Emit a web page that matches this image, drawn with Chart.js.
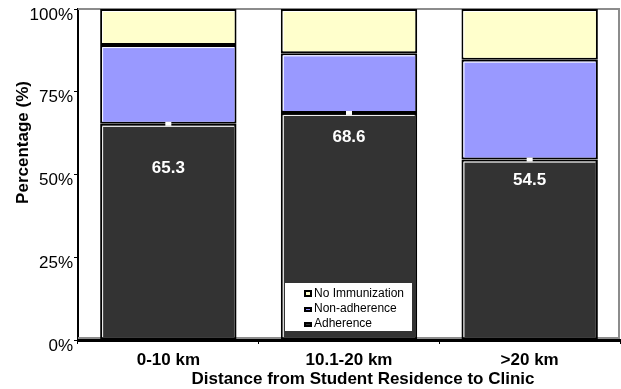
<!DOCTYPE html>
<html>
<head>
<meta charset="utf-8">
<script src="https://cdn.jsdelivr.net/npm/chart.js@4/dist/chart.umd.min.js"></script>
<style>
  html, body { margin: 0; padding: 0; background: #ffffff; }
  #wrap { width: 621px; height: 389px; }
</style>
</head>
<body>
<div id="wrap"><canvas id="c" width="621" height="389"></canvas></div>
<script>
// Immunization status by distance from student residence to clinic (% of students)
const categories = ['0-10 km', '10.1-20 km', '>20 km'];
const adherence = [65.3, 68.6, 54.5];
const nonAdherence = [23.8, 18.0, 30.2];
const noImmunization = [10.9, 13.4, 15.3];
const yTickValues = [0, 25, 50, 75, 100];

const FONT = "'Liberation Sans', Arial, sans-serif";
const COLORS = { adherence: '#333333', nonAdherence: '#9999ff', noImmunization: '#ffffcc' };

// Vertical drop (px) of each value label below the top of its Adherence segment
const labelDrop = [44, 24, 21];

const decor = {
  id: 'decor',
  beforeDatasetsDraw(chart) {
    const { ctx, chartArea: a } = chart;
    ctx.save();
    ctx.strokeStyle = '#8c8c8c';
    ctx.lineWidth = 2;
    ctx.beginPath();
    ctx.moveTo(a.left, a.top);
    ctx.lineTo(a.right - 1, a.top);
    ctx.lineTo(a.right - 1, a.bottom - 2);
    ctx.lineTo(a.left, a.bottom - 2);
    ctx.stroke();
    ctx.restore();
  },
  afterDatasetsDraw(chart) {
    const { ctx } = chart;
    ctx.save();
    // thin white highlight along the top and left inner edge of every segment
    chart.data.datasets.forEach((ds, di) => {
      chart.getDatasetMeta(di).data.forEach(el => {
        const left = el.x - el.width / 2 + 2.5;
        const right = el.x + el.width / 2 - 2.5;
        const top = Math.min(el.y, el.base) + 2.5;
        const bottom = Math.max(el.y, el.base) - 2.5;
        ctx.strokeStyle = '#ffffff';
        ctx.lineWidth = 1;
        ctx.beginPath();
        ctx.moveTo(left, bottom);
        ctx.lineTo(left, top);
        ctx.lineTo(right, top);
        ctx.stroke();
      });
    });
    // small white cap and value label on each Adherence segment
    const meta = chart.getDatasetMeta(0);
    meta.data.forEach((el, i) => {
      ctx.fillStyle = '#ffffff';
      ctx.fillRect(el.x - 3, el.y - 2, 6, 4);
      ctx.font = 'bold 17px ' + FONT;
      ctx.textAlign = 'center';
      ctx.textBaseline = 'middle';
      ctx.fillText(String(chart.data.datasets[0].data[i]), el.x, el.y + labelDrop[i]);
    });
    ctx.restore();
  },
  afterDraw(chart) {
    const { ctx, chartArea: a } = chart;
    ctx.save();
    // axis titles
    ctx.fillStyle = '#000000';
    ctx.font = 'bold 17px ' + FONT;
    ctx.textAlign = 'center';
    ctx.textBaseline = 'alphabetic';
    ctx.fillText('Distance from Student Residence to Clinic', (a.left + a.right) / 2 + 14, 384);
    ctx.save();
    ctx.translate(28, (a.top + a.bottom) / 2 - 32);
    ctx.rotate(-Math.PI / 2);
    ctx.fillText('Percentage (%)', 0, 0);
    ctx.restore();

    // legend box inside the plot
    const lx = 285, ly = 283, lw = 127, lh = 48;
    ctx.fillStyle = '#ffffff';
    ctx.fillRect(lx, ly, lw, lh);
    const order = [2, 1, 0];
    ctx.font = '12px ' + FONT;
    ctx.textAlign = 'left';
    order.forEach((di, row) => {
      const ds = chart.data.datasets[di];
      const base = ly + 14 + row * 15;
      const mh = row === 0 ? 7 : 5;
      ctx.fillStyle = '#000000';
      ctx.fillRect(lx + 19, base - mh, 8, mh);
      ctx.fillStyle = ds.backgroundColor;
      ctx.fillRect(lx + 21, base - mh + 2, 4, mh - 4);
      ctx.fillStyle = '#000000';
      ctx.fillText(ds.label, lx + 29, base);
    });
    ctx.restore();
  }
};

const segStyle = { borderColor: '#000000', borderWidth: 2, borderSkipped: false };

new Chart(document.getElementById('c'), {
  type: 'bar',
  data: {
    labels: categories,
    datasets: [
      Object.assign({ label: 'Adherence', data: adherence, backgroundColor: COLORS.adherence }, segStyle),
      Object.assign({ label: 'Non-adherence', data: nonAdherence, backgroundColor: COLORS.nonAdherence }, segStyle),
      Object.assign({ label: 'No Immunization', data: noImmunization, backgroundColor: COLORS.noImmunization }, segStyle)
    ]
  },
  options: {
    responsive: false,
    animation: false,
    devicePixelRatio: 1,
    layout: { padding: { top: 9, right: 1, left: 0, bottom: 0 } },
    datasets: { bar: { categoryPercentage: 1, barPercentage: 0.755 } },
    plugins: { legend: { display: false }, tooltip: { enabled: false } },
    scales: {
      x: {
        stacked: true,
        grid: { offset: true, drawOnChartArea: false, drawTicks: true, tickLength: 4, color: '#000000' },
        border: { display: true, color: '#000000', width: 3 },
        ticks: { color: '#000000', font: { family: FONT, size: 17, weight: 'bold' }, padding: 6, maxRotation: 0 },
        afterFit(s) { s.height = 49; s.paddingLeft = 0; s.paddingRight = 0; }
      },
      y: {
        stacked: true,
        min: 0,
        max: 100,
        afterBuildTicks(s) { s.ticks = yTickValues.map(v => ({ value: v })); },
        grid: { drawOnChartArea: false, drawTicks: true, tickLength: 4, color: '#000000' },
        border: { display: true, color: '#000000', width: 2 },
        ticks: {
          color: '#000000',
          font: { family: FONT, size: 17 },
          padding: 1,
          labelOffset: 6,
          callback: v => v + '%'
        },
        afterFit(s) { s.width = 78; s.paddingTop = 0; s.paddingBottom = 0; }
      }
    }
  },
  plugins: [decor]
});
</script>
</body>
</html>
